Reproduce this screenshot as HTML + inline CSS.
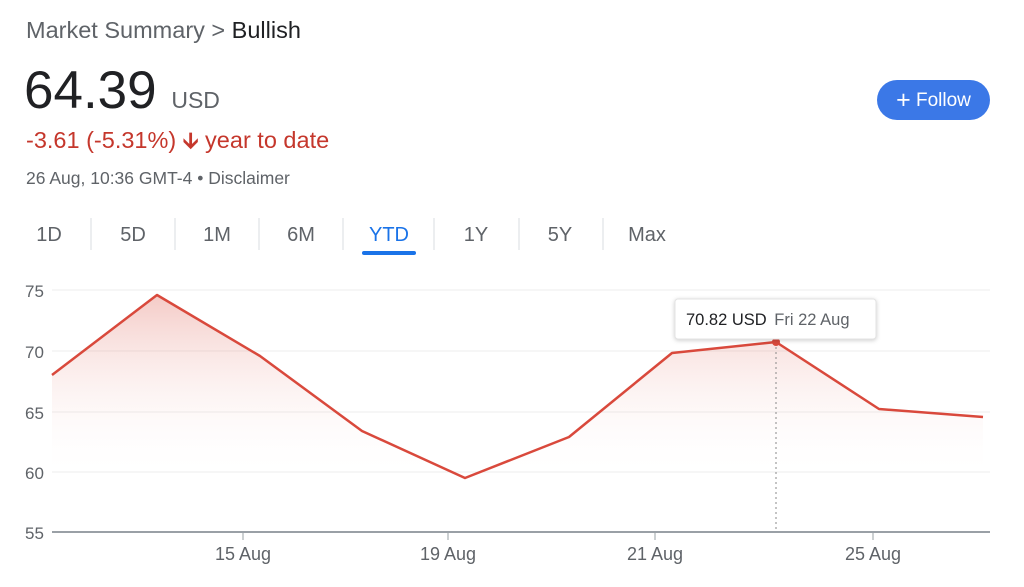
<!DOCTYPE html>
<html><head><meta charset="utf-8"><style>
body{margin:0;width:1024px;height:587px;background:#fff;font-family:"Liberation Sans",Arial,sans-serif;position:relative;overflow:hidden}
.a{position:absolute;white-space:nowrap}
</style></head><body>
<div class="a" style="left:26px;top:17px;font-size:23.5px;color:#5f6368">Market Summary &gt; <span style="color:#202124">Bullish</span></div>
<div class="a" style="left:24px;top:60px;font-size:53px;color:#202124">64.39 <span style="font-size:23px;color:#5f6368">USD</span></div>
<div class="a" style="left:26px;top:124px;font-size:23.5px;color:#c5372c">-3.61 (-5.31%) <b style="font-size:22px">&#129131;</b> year to date</div>
<div class="a" style="left:26px;top:168px;font-size:17.5px;color:#5f6368">26 Aug, 10:36 GMT-4 • Disclaimer</div>
<div class="a" style="left:877px;top:80px;width:113px;height:40px;border-radius:20px;background:#3b78e7;color:#fff;font-size:19px;line-height:40px;text-align:center"><span style="font-size:25px;vertical-align:-2px">+</span> Follow</div>
<svg class="a" style="left:0;top:0" width="1024" height="587">
<g font-size="20" fill="#5f6368" text-anchor="middle">
<text x="49" y="241">1D</text><text x="133" y="241">5D</text><text x="217" y="241">1M</text><text x="301" y="241">6M</text>
<text x="389" y="241" fill="#1a73e8">YTD</text><text x="476" y="241">1Y</text><text x="560" y="241">5Y</text><text x="647" y="241">Max</text>
</g>
<g stroke="#dadce0"><line x1="91" y1="218" x2="91" y2="250"/><line x1="175" y1="218" x2="175" y2="250"/><line x1="259" y1="218" x2="259" y2="250"/><line x1="343" y1="218" x2="343" y2="250"/><line x1="434" y1="218" x2="434" y2="250"/><line x1="519" y1="218" x2="519" y2="250"/><line x1="603" y1="218" x2="603" y2="250"/></g>
<rect x="362" y="251" width="54" height="4" rx="2" fill="#1a73e8"/>
<defs><linearGradient id="g" x1="0" y1="0" x2="0" y2="1"><stop offset="0" stop-color="#e06a5e" stop-opacity="0.35"/><stop offset="1" stop-color="#fff" stop-opacity="0"/></linearGradient></defs>
<g stroke="#ececec"><line x1="52" y1="290" x2="990" y2="290"/><line x1="52" y1="351" x2="990" y2="351"/><line x1="52" y1="412" x2="990" y2="412"/><line x1="52" y1="472" x2="990" y2="472"/></g>
<g font-size="17" fill="#5f6368"><text x="25" y="297">75</text><text x="25" y="358">70</text><text x="25" y="419">65</text><text x="25" y="479">60</text><text x="25" y="539">55</text></g>
<polygon points="52,375 157,295 260,356 362,431 465,478 569,437 672,353 776,342 879,409 983,417 983,468 52,468" fill="url(#g)"/>
<line x1="776" y1="342" x2="776" y2="532" stroke="#888" stroke-dasharray="2,3"/>
<polyline points="52,375 157,295 260,356 362,431 465,478 569,437 672,353 776,342 879,409 983,417" fill="none" stroke="#d9493c" stroke-width="2.5" stroke-linejoin="round"/>
<circle cx="776" cy="342" r="4" fill="#d9493c"/>
<line x1="52" y1="532" x2="990" y2="532" stroke="#9aa0a6" stroke-width="2"/>
<g stroke="#9aa0a6"><line x1="243" y1="532" x2="243" y2="540"/><line x1="448" y1="532" x2="448" y2="540"/><line x1="655" y1="532" x2="655" y2="540"/><line x1="873" y1="532" x2="873" y2="540"/></g>
<g font-size="18" fill="#5f6368" text-anchor="middle"><text x="243" y="560">15 Aug</text><text x="448" y="560">19 Aug</text><text x="655" y="560">21 Aug</text><text x="873" y="560">25 Aug</text></g>
<rect x="675" y="299" width="201" height="40" rx="3" fill="#fff" stroke="#e3e3e3" style="filter:drop-shadow(0 1px 2px rgba(0,0,0,.2))"/>
<text x="686" y="325" font-size="16.5" fill="#202124">70.82 USD <tspan fill="#5f6368" dx="3">Fri 22 Aug</tspan></text>
</svg>
</body></html>
